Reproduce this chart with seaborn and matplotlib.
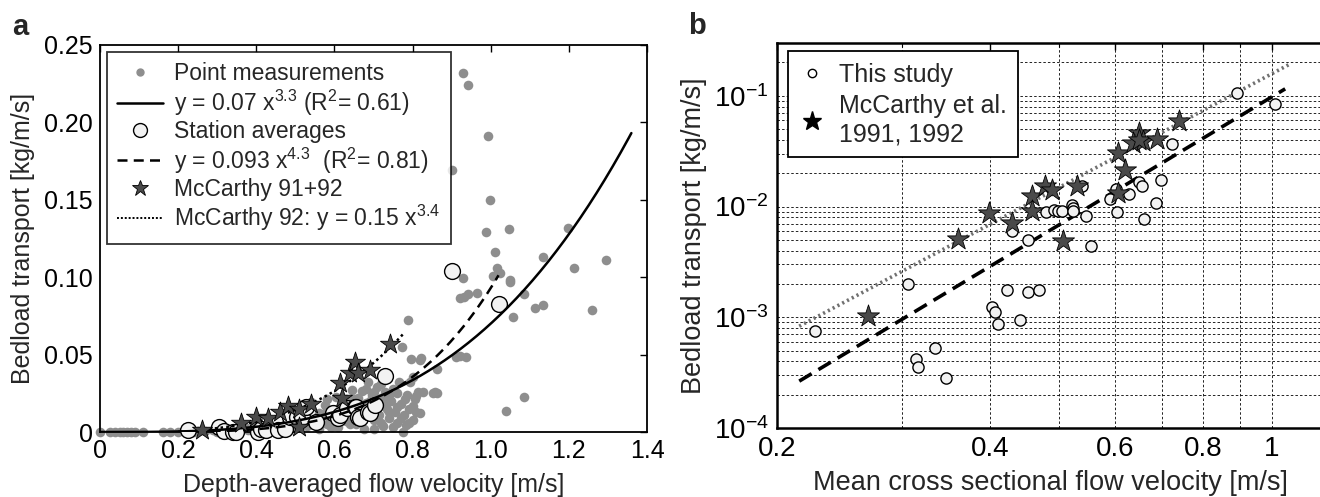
import numpy as np
import seaborn as sns
import matplotlib
matplotlib.use("Agg")
import matplotlib.pyplot as plt
from matplotlib.lines import Line2D
from matplotlib.ticker import FixedLocator, FixedFormatter, NullFormatter

# ---- panel a: point measurements (depth-averaged velocity, bedload transport)
point_v = [0.0, 0.026, 0.038, 0.05, 0.06, 0.07, 0.08, 0.09, 0.11, 0.16, 0.18, 0.2, 0.22, 0.24,
           0.25, 0.27, 0.29, 0.3, 0.32, 0.33, 0.35, 0.36, 0.37, 0.38, 0.39, 0.4, 0.41, 0.42,
           0.43, 0.44, 0.45, 0.46, 0.47, 0.48, 0.49, 0.5, 0.51, 0.52, 0.53, 0.54, 0.55, 0.56,
           0.575, 0.58, 0.59, 0.6, 0.605, 0.61, 0.62, 0.63, 0.635, 0.645, 0.65, 0.655, 0.66,
           0.665, 0.67, 0.675, 0.68, 0.685, 0.69, 0.695, 0.70, 0.705, 0.71, 0.715, 0.72, 0.725,
           0.73, 0.735, 0.74, 0.745, 0.75, 0.755, 0.76, 0.765, 0.77, 0.775, 0.778, 0.783, 0.786,
           0.79, 0.793, 0.795, 0.80, 0.802, 0.805, 0.81, 0.815, 0.819, 0.822, 0.827, 0.772,
           0.789, 0.852, 0.857, 0.863, 0.863, 0.912, 0.921, 0.936, 1.086, 1.038,
           0.56, 0.57, 0.58, 0.59, 0.60, 0.62, 0.63, 0.64, 0.65, 0.66, 0.67, 0.68, 0.69, 0.70,
           0.71, 0.72, 0.73, 0.74, 0.75, 0.76, 0.77, 0.78, 0.79, 0.80, 0.81, 0.82, 0.76, 0.74,
           0.70, 0.72, 0.68, 0.64, 0.58, 0.54, 0.52, 0.50, 0.47, 0.44,
           0.930, 0.942, 0.994, 0.902, 0.998, 0.987, 1.046, 1.198, 1.012, 1.135, 1.296, 1.212,
           1.016, 1.025, 1.005, 0.928, 1.049, 1.050, 0.922, 0.931, 0.943, 0.966, 1.086, 1.114,
           1.135, 1.260, 1.058]
point_q = [0.0, 0.0, 0.0, 0.0, 0.0, 0.0, 0.0, 0.0, 0.0, 0.0, 0.0, 0.0, 0.0, 0.0,
           0.0005, 0.0005, 0.001, 0.0003, 0.001, 0.0005, 0.002, 0.001, 0.003, 0.0015, 0.002,
           0.0035, 0.001, 0.004, 0.002, 0.005, 0.003, 0.0065, 0.002, 0.005, 0.008, 0.003, 0.006,
           0.010, 0.004, 0.0196, 0.008, 0.012, 0.0175, 0.005, 0.009, 0.014, 0.0228, 0.003, 0.018,
           0.007, 0.012, 0.027, 0.021, 0.005, 0.016, 0.010, 0.0267, 0.002, 0.019, 0.0325, 0.013,
           0.024, 0.008, 0.017, 0.029, 0.011, 0.022, 0.004, 0.026, 0.015, 0.009, 0.020, 0.028,
           0.013, 0.006, 0.0325, 0.018, 0.0002, 0.011, 0.0045, 0.024, 0.015, 0.032, 0.047,
           0.0358, 0.008, 0.021, 0.013, 0.026, 0.0466, 0.0477, 0.026, 0.055, 0.0724, 0.025,
           0.0257, 0.041, 0.025, 0.0487, 0.049, 0.0485, 0.0228, 0.0136,
           0.002, 0.011, 0.015, 0.003, 0.007, 0.010, 0.021, 0.005, 0.014, 0.022, 0.008, 0.012,
           0.020, 0.002, 0.015, 0.006, 0.019, 0.024, 0.003, 0.016, 0.009, 0.021, 0.006, 0.017,
           0.023, 0.012, 0.025, 0.013, 0.026, 0.031, 0.028, 0.017, 0.021, 0.006, 0.014, 0.011,
           0.009, 0.001,
           0.232, 0.224, 0.191, 0.169, 0.150, 0.129, 0.131, 0.132, 0.116, 0.113, 0.111, 0.106,
           0.106, 0.103, 0.101, 0.0996, 0.098, 0.097, 0.0865, 0.0875, 0.089, 0.090, 0.089, 0.080,
           0.082, 0.079, 0.0746]

# station averages
station_v = [0.226, 0.304, 0.317, 0.34, 0.347, 0.405, 0.413, 0.426, 0.452, 0.456, 0.473, 0.486,
             0.503, 0.516, 0.528, 0.554, 0.597, 0.609, 0.614, 0.631, 0.652, 0.656, 0.661, 0.665,
             0.686, 0.69, 0.703, 0.729, 0.901, 1.021]
station_q = [0.0013, 0.003, 0.0006, 0.0002, 0.0002, 0.0002, 0.002, 0.0013, 0.0056, 0.0013, 0.002,
             0.0099, 0.0099, 0.0099, 0.0164, 0.0067, 0.012, 0.0088, 0.011, 0.0153, 0.0164, 0.016,
             0.0099, 0.0088, 0.013, 0.012, 0.0175, 0.036, 0.104, 0.083]

# McCarthy 91+92
mcc_v = [0.26, 0.36, 0.40, 0.43, 0.46, 0.48, 0.51, 0.51, 0.54, 0.614, 0.62, 0.64, 0.652, 0.66,
         0.69, 0.742]
mcc_q = [0.001, 0.006, 0.0099, 0.009, 0.013, 0.0165, 0.015, 0.003, 0.018, 0.0315, 0.022, 0.038,
         0.0455, 0.038, 0.040, 0.057]

# fitted power laws y = c x^p, shown in the legend, with the plotted range
fit_point = (0.07, 3.3, 0.0, 1.36)
fit_station = (0.093, 4.3, 0.2, 1.02)
fit_mcc = (0.15, 3.4, 0.25, 0.78)

# ---- panel b: cross-section means
study_v = [0.226, 0.306, 0.314, 0.316, 0.334, 0.346, 0.403, 0.406, 0.410, 0.422, 0.441, 0.430,
           0.453, 0.453, 0.469, 0.480, 0.492, 0.499, 0.505, 0.522, 0.524, 0.523, 0.539, 0.546,
           0.555, 0.591, 0.602, 0.605, 0.629, 0.648, 0.655, 0.660, 0.686, 0.697, 0.722, 0.892,
           1.01]
study_q = [7.5e-4, 1.98e-3, 4.19e-4, 3.56e-4, 5.26e-4, 2.84e-4, 1.25e-3, 1.12e-3, 8.65e-4,
           1.78e-3, 9.5e-4, 6.0e-3, 5.0e-3, 1.7e-3, 1.76e-3, 8.9e-3, 9.3e-3, 9.1e-3, 9.1e-3,
           1.04e-2, 9.7e-3, 9.1e-3, 1.52e-2, 8.3e-3, 4.4e-3, 1.17e-2, 1.45e-2, 8.9e-3, 1.31e-2,
           1.66e-2, 1.52e-2, 7.7e-3, 1.08e-2, 1.73e-2, 3.67e-2, 0.106, 0.0848]
lit_v = [0.269, 0.360, 0.399, 0.429, 0.459, 0.459, 0.478, 0.489, 0.530, 0.507, 0.607, 0.620,
         0.607, 0.648, 0.637, 0.658, 0.648, 0.688, 0.739]
lit_q = [1.03e-3, 5.1e-3, 8.8e-3, 7.1e-3, 1.24e-2, 9.1e-3, 1.52e-2, 1.42e-2, 1.52e-2, 4.9e-3,
         3.05e-2, 2.16e-2, 1.33e-2, 4.61e-2, 3.75e-2, 3.87e-2, 4.02e-2, 4.1e-2, 5.87e-2]
# regression lines (end points)
lit_line_v = [0.215, 1.061]
lit_line_q = [8.3e-4, 0.194]
study_line_v = [0.215, 1.044]
study_line_q = [2.65e-4, 0.1156]

sns.set_theme(style="white")
plt.rcParams["font.family"] = ["Liberation Sans", "DejaVu Sans"]
plt.rcParams["mathtext.fontset"] = "custom"
plt.rcParams["mathtext.rm"] = "Liberation Sans"
plt.rcParams["mathtext.it"] = "Liberation Sans:italic"
plt.rcParams["mathtext.bf"] = "Liberation Sans:bold"
plt.rcParams["axes.unicode_minus"] = False

fig = plt.figure(figsize=(13.2, 4.97), dpi=100)
ax1 = fig.add_axes([100 / 1320, 65 / 497, 547 / 1320, 387 / 497])
ax2 = fig.add_axes([777 / 1320, 69 / 497, 551 / 1320, 385 / 497])

gray = "#8e8e8e"
star_face = "#4a4a4a"
circ_face = "#f2f2f2"

# ---------------- panel a
sns.scatterplot(x=point_v, y=point_q, ax=ax1, color=gray, s=48, linewidth=0, zorder=2,
                clip_on=False)

for (c, p, x0, x1), ls in [(fit_point, "-"), (fit_station, (0, (4, 2.5))), (fit_mcc, (0, (1, 1.3)))]:
    xs = np.linspace(x0, x1, 200)
    sns.lineplot(x=xs, y=c * xs ** p, ax=ax1, color="black", linestyle=ls, lw=1.8, zorder=4)

sns.scatterplot(x=station_v, y=station_q, ax=ax1, color=circ_face, edgecolor="black",
                s=130, linewidth=1.0, zorder=3, clip_on=False)
sns.scatterplot(x=mcc_v, y=mcc_q, ax=ax1, marker="*", color=star_face, edgecolor="black",
                s=230, linewidth=0.6, zorder=5, clip_on=False)

ax1.set_xlim(0, 1.4)
ax1.set_ylim(0, 0.25)
ax1.xaxis.set_major_locator(FixedLocator([0, 0.2, 0.4, 0.6, 0.8, 1.0, 1.2, 1.4]))
ax1.xaxis.set_major_formatter(FixedFormatter(["0", "0.2", "0.4", "0.6", "0.8", "1.0", "1.2", "1.4"]))
ax1.yaxis.set_major_locator(FixedLocator([0, 0.05, 0.10, 0.15, 0.20, 0.25]))
ax1.yaxis.set_major_formatter(FixedFormatter(["0", "0.05", "0.10", "0.15", "0.20", "0.25"]))
ax1.tick_params(direction="in", top=True, right=True, length=5, width=1, labelsize=18,
                colors="black", pad=5)
for sp in ax1.spines.values():
    sp.set_color("black")
    sp.set_linewidth(1.3)
ax1.set_xlabel("Depth-averaged flow velocity [m/s]", fontsize=18)
ax1.set_ylabel("Bedload transport [kg/m/s]", fontsize=18)
ax1.xaxis.set_label_coords(0.5, -0.105)
ax1.yaxis.set_label_coords(-0.118, 0.5)

handles_a = [
    Line2D([], [], ls="", marker="o", color=gray, ms=5),
    Line2D([], [], color="black", lw=1.8),
    Line2D([], [], ls="", marker="o", mfc=circ_face, mec="black", ms=10),
    Line2D([], [], color="black", lw=1.8, ls=(0, (4, 2.5))),
    Line2D([], [], ls="", marker="*", mfc=star_face, mec="black", ms=12, mew=0.6),
    Line2D([], [], color="black", lw=1.4, ls=(0, (1, 1))),
]
labels_a = [
    "Point measurements",
    r"y = 0.07 x$^{3.3}$ (R$^{2}$= 0.61)",
    "Station averages",
    r"y = 0.093 x$^{4.3}$  (R$^{2}$= 0.81)",
    "McCarthy 91+92",
    r"McCarthy 92: y = 0.15 x$^{3.4}$",
]
leg = ax1.legend(handles_a, labels_a, loc="upper left", bbox_to_anchor=(0.012, 0.982),
                 fontsize=16.5, frameon=True, fancybox=False, edgecolor="black",
                 handlelength=2.0, handletextpad=0.5, labelspacing=0.1, borderpad=0.45,
                 borderaxespad=0)
leg.get_frame().set_linewidth(1.3)
leg.set_zorder(10)

# ---------------- panel b
sns.lineplot(x=lit_line_v, y=lit_line_q, ax=ax2, color="#707070", lw=2.6,
             linestyle=(0, (0.6, 0.9)), zorder=3)
sns.lineplot(x=study_line_v, y=study_line_q, ax=ax2, color="black", lw=2.6,
             linestyle=(0, (4, 2.2)), zorder=3)
sns.scatterplot(x=study_v, y=study_q, ax=ax2, color=circ_face, edgecolor="black",
                s=65, linewidth=1.0, zorder=4)
sns.scatterplot(x=lit_v, y=lit_q, ax=ax2, marker="*", color=star_face, edgecolor="black",
                s=280, linewidth=0.6, zorder=5)

ax2.set_xscale("log")
ax2.set_yscale("log")
ax2.set_xlim(0.2, 1.2)
ax2.set_ylim(1e-4, 0.3)
ax2.xaxis.set_major_locator(FixedLocator([0.2, 0.4, 0.6, 0.8, 1.0]))
ax2.xaxis.set_major_formatter(FixedFormatter(["0.2", "0.4", "0.6", "0.8", "1"]))
ax2.xaxis.set_minor_locator(FixedLocator([0.3, 0.5, 0.7, 0.9]))
ax2.xaxis.set_minor_formatter(NullFormatter())
ax2.yaxis.set_major_locator(FixedLocator([1e-4, 1e-3, 1e-2, 1e-1]))
ax2.yaxis.set_major_formatter(FixedFormatter([r"$10^{-4}$", r"$10^{-3}$", r"$10^{-2}$", r"$10^{-1}$"]))
minor_y = [m * 10.0 ** e for e in (-4, -3, -2, -1) for m in range(2, 10)]
ax2.yaxis.set_minor_locator(FixedLocator(minor_y))
ax2.yaxis.set_minor_formatter(NullFormatter())
ax2.tick_params(which="both", direction="in", top=True, right=True, colors="black")
ax2.tick_params(which="major", length=5, width=1, labelsize=20, pad=6)
ax2.tick_params(which="minor", length=3, width=0.8)
ax2.grid(True, which="both", color="black", lw=0.6, ls=(0, (3, 2.5)))
for sp in ax2.spines.values():
    sp.set_color("black")
    sp.set_linewidth(1.8)
ax2.set_xlabel("Mean cross sectional flow velocity [m/s]", fontsize=19.5)
ax2.set_ylabel("Bedload transport [kg/m/s]", fontsize=19.5)
ax2.xaxis.set_label_coords(0.497, -0.11)
ax2.yaxis.set_label_coords(-0.127, 0.5)

handles_b = [
    Line2D([], [], ls="", marker="o", mfc="white", mec="black", ms=6),
    Line2D([], [], ls="", marker="*", mfc="black", mec="black", ms=14),
]
leg2 = ax2.legend(handles_b, ["This study", "McCarthy et al.\n1991, 1992"], loc="upper left",
                  bbox_to_anchor=(0.02, 0.978), fontsize=18, frameon=True, fancybox=False,
                  edgecolor="black", framealpha=1, handlelength=1.0, handletextpad=0.6,
                  labelspacing=0.3, borderpad=0.45, borderaxespad=0)
leg2.get_frame().set_linewidth(1.3)
leg2.set_zorder(10)

fig.text(12 / 1320, 1 - 35 / 497, "a", fontsize=21, fontweight="bold", va="baseline")
fig.text(688 / 1320, 1 - 34 / 497, "b", fontsize=21, fontweight="bold", va="baseline")

fig.savefig("out.png", dpi=100)
